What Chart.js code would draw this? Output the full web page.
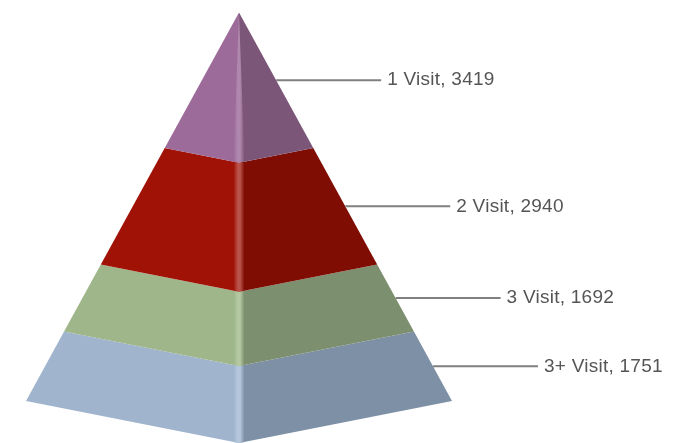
<!DOCTYPE html>
<html>
<head>
<meta charset="utf-8">
<title>Visits pyramid</title>
<script src="https://cdn.jsdelivr.net/npm/chart.js@4"></script>
<style>
  html, body { margin: 0; padding: 0; background: #fff; }
  #wrap { width: 687px; height: 443px; }
</style>
</head>
<body>
<div id="wrap"><canvas id="pyramid" width="687" height="443"></canvas></div>
<script>
const categories = ["1 Visit", "2 Visit", "3 Visit", "3+ Visit"];
const visits = [3419, 2940, 1692, 1751];
const leftColors = ["#9c6b9a", "#a11206", "#9fb68b", "#a0b5cd"];
const rightColors = ["#7c5679", "#800d04", "#7c8f6e", "#7e90a6"];
const ridgeColors = ["#b088ae", "#b9534a", "#b4c8a2", "#b5c7dc"];

const total = visits.reduce((a, b) => a + b, 0);

// x axis: 1 = half of the base width; y axis: cumulative visits from the apex
const unitsPerPx = total / 388.5;
const apexPx = 12.5;
const halfBasePx = 213;
const depth = 42 * unitsPerPx; // how far the front corner hangs below the side corners
const ridgeHalf = 5.5 / halfBasePx;
const leaderLength = 105 / halfBasePx;

const halfWidth = (v) => v / total;
const front = (v) => v + depth * (v / total);

const tops = visits.map((_, i) => visits.slice(0, i).reduce((a, b) => a + b, 0));
const bottoms = visits.map((v, i) => tops[i] + v);

function face(i, side) {
  const t = tops[i], b = bottoms[i];
  return [
    { x: side * halfWidth(t), y: t },
    { x: side * halfWidth(b), y: b },
    { x: 0, y: front(b) },
    { x: 0, y: front(t) },
    { x: side * halfWidth(t), y: t },
  ];
}

function ridge(i) {
  const t = front(tops[i]), b = front(bottoms[i]);
  const wt = i === 0 ? 0 : ridgeHalf;
  return [
    { x: -wt, y: t - (wt * depth) },
    { x: -ridgeHalf, y: b - (ridgeHalf * depth) },
    { x: 0, y: b },
    { x: ridgeHalf, y: b - (ridgeHalf * depth) },
    { x: wt, y: t - (wt * depth) },
    { x: 0, y: t },
    { x: -wt, y: t - (wt * depth) },
  ];
}

// horizontal fade across the front edge
function ridgeFill(i) {
  return (ctx) => {
    const { chart } = ctx;
    const xs = chart.scales.x;
    const x0 = xs ? xs.getPixelForValue(-ridgeHalf) : NaN;
    const x1 = xs ? xs.getPixelForValue(ridgeHalf) : NaN;
    if (!Number.isFinite(x0) || !Number.isFinite(x1)) return ridgeColors[i];
    const g = chart.ctx.createLinearGradient(x0, 0, x1, 0);
    g.addColorStop(0, leftColors[i]);
    g.addColorStop(0.4, ridgeColors[i]);
    g.addColorStop(0.6, ridgeColors[i]);
    g.addColorStop(1, rightColors[i]);
    return g;
  };
}

const polygon = { showLine: true, fill: "shape", borderWidth: 0, pointRadius: 0, tension: 0 };

const datasets = [];
visits.forEach((v, i) => {
  datasets.push({ ...polygon, label: categories[i] + " left", data: face(i, -1), backgroundColor: leftColors[i], order: 3 });
  datasets.push({ ...polygon, label: categories[i] + " right", data: face(i, 1), backgroundColor: rightColors[i], order: 3 });
  datasets.push({ ...polygon, label: categories[i] + " edge", data: ridge(i), backgroundColor: ridgeFill(i), order: 2 });
  const mid = tops[i] + v / 2;
  datasets.push({
    label: categories[i] + " leader",
    showLine: true, fill: false, pointRadius: 0, borderWidth: 2, borderColor: "#808080", order: 1,
    data: [{ x: halfWidth(mid), y: mid }, { x: halfWidth(mid) + leaderLength, y: mid }],
  });
});

const sliceLabels = {
  id: "sliceLabels",
  afterDatasetsDraw(chart) {
    const { ctx, scales } = chart;
    ctx.save();
    ctx.font = '19px "Liberation Sans", Arial, sans-serif';
    ctx.letterSpacing = "0.25px";
    ctx.fillStyle = "#555555";
    ctx.textAlign = "left";
    ctx.textBaseline = "middle";
    visits.forEach((v, i) => {
      const mid = tops[i] + v / 2;
      const x = scales.x.getPixelForValue(halfWidth(mid) + leaderLength) + 6;
      ctx.fillText(categories[i] + ", " + v, x, scales.y.getPixelForValue(mid));
    });
    ctx.restore();
  },
};

new Chart(document.getElementById("pyramid"), {
  type: "scatter",
  data: { datasets },
  plugins: [sliceLabels],
  options: {
    responsive: false,
    animation: false,
    layout: { padding: 0 },
    plugins: { legend: { display: false }, tooltip: { enabled: false }, title: { display: false } },
    scales: {
      x: { display: false, type: "linear", min: -239 / halfBasePx, max: (687 - 239) / halfBasePx },
      y: { display: false, type: "linear", reverse: true, min: -apexPx * unitsPerPx, max: (443 - apexPx) * unitsPerPx },
    },
  },
});
</script>
</body>
</html>
